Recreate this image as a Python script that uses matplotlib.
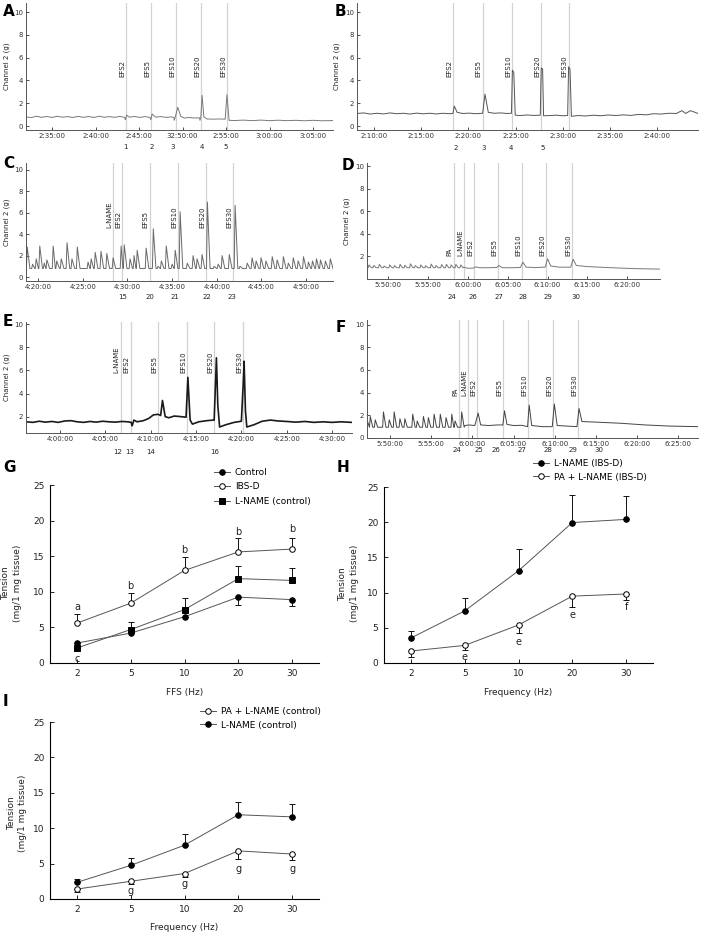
import numpy as np
import matplotlib.pyplot as plt

plt.rcParams['font.family'] = ['DejaVu Sans']

W, H = 720, 936

# ---------------- recordings (time in minutes, tension in g) ----------------
EFS = ['EFS2', 'EFS5', 'EFS10', 'EFS20', 'EFS30']

# A: minutes after 2:00
A_ticks = [35, 40, 45, 50, 55, 60, 65]
A_ticklabels = ['2:35:00', '2:40:00', '2:45:00', '32:50:00', '2:55:00', '3:00:00', '3:05:00']
A_events = [43.5, 46.4, 49.3, 52.1, 55.1]
A_marks = [43.4, 46.4, 48.9, 52.2, 55.0]
A_mark_labels = ['1', '2', '3', '4', '5']
A_trace = [(32.0, 0.80), (32.6, 0.74), (33.2, 0.86), (33.8, 0.76), (34.4, 0.84), (35.0, 0.75),
           (35.6, 0.86), (36.2, 0.77), (36.8, 0.83), (37.4, 0.75), (38.0, 0.85), (38.6, 0.76),
           (39.2, 0.84), (39.8, 0.75), (40.4, 0.86), (41.0, 0.77), (41.6, 0.83), (42.2, 0.76),
           (42.8, 0.85), (43.3, 0.76), (43.45, 0.55), (43.55, 0.95), (43.9, 0.78), (44.5, 0.84),
           (45.1, 0.75), (45.7, 0.83), (46.25, 0.75), (46.35, 0.55), (46.5, 1.05), (46.9, 0.78),
           (47.5, 0.83), (48.1, 0.76), (48.7, 0.80), (49.0, 0.75), (49.05, 0.50), (49.15, 0.75),
           (49.45, 1.65), (49.8, 0.85), (50.2, 0.70), (50.8, 0.75), (51.4, 0.70), (51.95, 0.72),
           (52.0, 0.50), (52.1, 0.75), (52.25, 2.70), (52.45, 0.80), (52.8, 0.62), (53.5, 0.60),
           (54.2, 0.62), (54.9, 0.60), (55.1, 2.75), (55.35, 0.50), (56.0, 0.48), (57.0, 0.52),
           (58.0, 0.47), (59.0, 0.52), (60.0, 0.47), (61.0, 0.51), (62.0, 0.47), (63.0, 0.50),
           (64.0, 0.46), (65.0, 0.50), (66.0, 0.46), (67.3, 0.48)]

# B: minutes after 2:00
B_ticks = [10, 15, 20, 25, 30, 35, 40]
B_ticklabels = ['2:10:00', '2:15:00', '2:20:00', '2:25:00', '2:30:00', '2:35:00', '2:40:00']
B_events = [18.4, 21.5, 24.6, 27.7, 30.6]
B_marks = [18.7, 21.6, 24.5, 27.9]
B_mark_labels = ['2', '3', '4', '5']
B_trace = [(8.2, 1.10), (8.9, 1.15), (9.6, 1.05), (10.3, 1.12), (11.0, 1.06), (11.7, 1.15),
           (12.4, 1.08), (13.1, 1.12), (13.8, 1.05), (14.5, 1.13), (15.2, 1.07), (15.9, 1.12),
           (16.6, 1.06), (17.3, 1.12), (18.0, 1.08), (18.35, 1.10), (18.5, 1.75), (18.8, 1.20),
           (19.4, 1.10), (20.1, 1.13), (20.8, 1.08), (21.5, 1.12), (21.75, 2.80), (22.1, 1.20),
           (22.7, 1.12), (23.4, 1.15), (24.1, 1.10), (24.55, 1.12), (24.65, 4.90), (24.8, 4.70),
           (24.95, 0.95), (25.5, 0.92), (26.2, 0.97), (26.9, 0.93), (27.6, 0.95), (27.7, 5.10),
           (27.85, 5.00), (27.95, 0.90), (28.6, 0.92), (29.3, 0.95), (30.0, 0.90), (30.5, 0.92),
           (30.6, 5.20), (30.75, 5.00), (30.9, 0.85), (31.6, 0.92), (32.4, 0.88), (33.2, 0.95),
           (34.0, 0.90), (34.8, 0.97), (35.6, 0.92), (36.4, 0.98), (37.2, 0.93), (38.0, 1.02),
           (38.8, 0.98), (39.6, 1.08), (40.4, 1.05), (41.2, 1.12), (42.0, 1.10), (42.6, 1.35),
           (43.0, 1.10), (43.5, 1.35), (44.3, 1.10)]

# C: minutes after 4:00
C_ticks = [20, 25, 30, 35, 40, 45, 50]
C_ticklabels = ['4:20:00', '4:25:00', '4:30:00', '4:35:00', '4:40:00', '4:45:00', '4:50:00']
C_events = [28.4, 29.4, 32.5, 35.7, 38.8, 41.8]
C_event_labels = ['L-NAME'] + EFS
C_marks = [29.5, 32.5, 35.3, 38.9, 41.7]
C_mark_labels = ['15', '20', '21', '22', '23']
C_peaks = [(18.8, 2.8), (19.4, 1.2), (19.8, 1.7), (20.2, 2.9), (20.7, 1.3), (21.0, 1.6),
           (21.7, 2.9), (22.1, 1.5), (22.6, 1.7), (23.25, 3.2), (23.8, 1.7), (24.4, 2.8),
           (25.6, 1.4), (25.95, 1.7), (26.4, 2.3), (27.05, 2.4), (27.7, 2.2), (28.4, 1.8),
           (29.3, 2.9), (29.65, 3.0), (30.3, 1.7), (30.75, 2.0), (31.1, 2.5), (32.1, 2.7),
           (32.9, 4.5), (33.45, 1.0), (33.8, 1.5), (34.35, 2.9), (35.0, 1.2), (35.35, 2.5),
           (35.9, 6.1), (36.7, 1.3), (37.35, 2.0), (37.8, 1.7), (38.35, 2.1), (38.95, 7.0),
           (39.7, 1.0), (40.15, 1.2), (40.6, 2.0), (41.4, 2.1), (42.05, 6.7), (42.6, 1.0),
           (43.4, 1.3), (43.95, 1.8), (44.4, 1.5), (44.95, 1.8), (45.5, 1.5), (46.2, 1.9),
           (46.75, 1.6), (47.45, 1.9), (48.0, 1.3), (48.55, 1.8), (49.1, 1.5), (49.7, 1.9),
           (50.25, 1.4), (50.7, 1.5), (51.15, 1.7), (51.6, 1.6), (52.15, 1.5), (52.7, 1.7)]

# D: minutes after 5:00
D_ticks = [50, 55, 60, 65, 70, 75, 80]
D_ticklabels = ['5:50:00', '5:55:00', '6:00:00', '6:05:00', '6:10:00', '6:15:00', '6:20:00']
D_events = [58.2, 59.5, 60.8, 63.8, 66.8, 69.8, 73.1]
D_event_labels = ['PA', 'L-NAME'] + EFS
D_marks = [58.0, 60.7, 63.9, 66.9, 70.0, 73.5]
D_mark_labels = ['24', '26', '27', '28', '29', '30']
D_wiggle = [(47.6, 1.25), (48.2, 1.20), (48.9, 1.30), (49.5, 1.15), (50.2, 1.25), (50.8, 1.20),
            (51.5, 1.30), (52.1, 1.22), (52.8, 1.35), (53.4, 1.20), (54.1, 1.25), (54.7, 1.18),
            (55.4, 1.32), (56.0, 1.20), (56.7, 1.28), (57.3, 1.30), (57.9, 1.25), (58.5, 1.30),
            (59.1, 1.25)]
D_tail = [(59.5, 1.05), (60.0, 0.95), (60.7, 0.97), (61.0, 1.08), (61.5, 1.00), (62.5, 1.00),
          (63.6, 1.02), (63.9, 1.20), (64.3, 1.00), (65.5, 1.00), (66.6, 1.02), (66.9, 1.50),
          (67.3, 1.05), (68.5, 1.02), (69.7, 1.05), (70.0, 1.80), (70.4, 1.15), (71.5, 1.05),
          (72.9, 1.05), (73.2, 1.75), (73.6, 1.20), (75.0, 1.10), (78.0, 1.00), (81.0, 0.92),
          (84.1, 0.88)]

# E: minutes after 3:00
E_ticks = [60, 65, 70, 75, 80, 85, 90]
E_ticklabels = ['4:00:00', '4:05:00', '4:10:00', '4:15:00', '4:20:00', '4:25:00', '4:30:00']
E_events = [66.7, 67.8, 70.8, 74.0, 77.0, 80.2]
E_event_labels = ['L-NAME'] + EFS
E_marks = [66.4, 67.7, 70.0, 77.1]
E_mark_labels = ['12', '13', '14', '16']
E_trace = [(56.25, 1.55), (57.0, 1.50), (57.7, 1.60), (58.4, 1.52), (59.1, 1.58), (59.8, 1.50),
           (60.5, 1.62), (61.2, 1.65), (61.9, 1.55), (62.6, 1.50), (63.3, 1.58), (64.0, 1.52),
           (64.7, 1.60), (65.4, 1.55), (66.1, 1.52), (66.8, 1.58), (67.5, 1.55), (67.85, 1.50),
           (67.95, 1.20), (68.15, 1.70), (68.5, 1.55), (69.2, 1.65), (69.8, 1.85), (70.3, 2.15),
           (70.8, 2.20), (71.1, 2.10), (71.3, 3.40), (71.6, 2.00), (72.0, 1.90), (72.6, 2.05),
           (73.3, 2.00), (73.9, 1.95), (74.1, 5.40), (74.35, 1.70), (74.6, 1.35), (75.3, 1.55),
           (76.2, 1.65), (76.9, 1.70), (77.0, 1.70), (77.25, 7.10), (77.4, 3.00), (77.6, 1.10),
           (78.3, 1.30), (79.2, 1.50), (80.0, 1.60), (80.2, 4.80), (80.3, 6.80), (80.45, 2.50),
           (80.6, 1.10), (81.4, 1.30), (82.3, 1.60), (83.2, 1.70), (84.1, 1.62), (85.0, 1.58),
           (86.0, 1.52), (87.0, 1.58), (88.0, 1.50), (89.0, 1.55), (90.0, 1.50), (91.0, 1.55),
           (92.2, 1.50)]

# F: minutes after 5:00
F_ticks = [50, 55, 60, 65, 70, 75, 80, 85]
F_ticklabels = ['5:50:00', '5:55:00', '6:00:00', '6:05:00', '6:10:00', '6:15:00', '6:20:00', '6:25:00']
F_events = [58.4, 59.5, 60.6, 63.7, 66.8, 69.8, 72.8]
F_event_labels = ['PA', 'L-NAME'] + EFS
F_marks = [58.1, 60.8, 62.9, 66.0, 69.2, 72.2, 75.4]
F_mark_labels = ['24', '25', '26', '27', '28', '29', '30']
F_osc = [(47.6, 1.9), (48.2, 1.6), (49.2, 2.3), (49.9, 1.6), (50.5, 2.3), (51.2, 1.7),
         (51.8, 1.7), (52.75, 2.1), (53.3, 1.5), (54.05, 1.9), (54.65, 1.8), (55.35, 2.1),
         (56.1, 2.1), (56.8, 1.8), (57.5, 2.1), (57.9, 1.5), (58.7, 2.3)]
F_tail = [(59.1, 1.10), (59.6, 1.15), (60.3, 1.10), (60.7, 2.20), (61.0, 1.15), (62.0, 1.10),
          (63.0, 1.15), (63.7, 1.15), (63.9, 2.40), (64.2, 1.20), (65.0, 1.10), (66.0, 1.12),
          (66.7, 1.00), (66.9, 2.90), (67.2, 1.10), (68.5, 1.00), (69.7, 1.00), (69.95, 3.00),
          (70.3, 1.10), (71.5, 1.05), (72.7, 1.00), (72.95, 2.60), (73.3, 1.45), (75.0, 1.40),
          (78.0, 1.30), (81.0, 1.15), (84.0, 1.05), (87.4, 1.00)]

# ---------------- summary data ----------------
freq_labels = ['2', '5', '10', '20', '30']

G_control = [2.8, 4.2, 6.5, 9.25, 8.9]
G_control_lo = [0, 0, 0, 1.15, 0.9]
G_ibsd = [5.6, 8.4, 13.0, 15.6, 16.0]
G_ibsd_hi = [1.25, 1.5, 1.85, 2.0, 1.6]
G_lname = [2.1, 4.7, 7.5, 11.85, 11.6]
G_lname_hi = [0.3, 1.0, 1.6, 1.75, 1.8]
G_letters = [('a', 0, 7.9), ('b', 1, 10.8), ('b', 2, 15.9), ('b', 3, 18.4), ('b', 4, 18.75), ('c', 0, 0.6)]

H_lname = [3.55, 7.4, 13.1, 19.95, 20.4]
H_lname_hi = [1.05, 1.8, 3.1, 3.95, 3.3]
H_pa = [1.7, 2.5, 5.4, 9.5, 9.8]
H_pa_lo = [0.8, 0.6, 1.1, 1.5, 0.8]
H_letters = [('e', 1, 0.9), ('e', 2, 3.0), ('e', 3, 6.8), ('f', 4, 8.0)]

I_lname = [2.35, 4.75, 7.6, 11.9, 11.6]
I_lname_hi = [0.45, 1.05, 1.65, 1.8, 1.8]
I_pa = [1.4, 2.5, 3.6, 6.8, 6.35]
I_pa_lo = [0.4, 0.4, 0.55, 1.2, 0.85]
I_letters = [('g', 1, 1.2), ('g', 2, 2.1), ('g', 3, 4.3), ('g', 4, 4.2)]


def spikes(peaks, trough):
    pts = []
    for i, (t, h) in enumerate(peaks):
        nxt = peaks[i + 1][0] if i + 1 < len(peaks) else t + 1
        pts += [(t - 0.1, trough), (t, h), (t + min(0.3, 0.6 * (nxt - t)), trough)]
    return pts


def px_rect(l, t, r, b):
    return [l / W, 1 - b / H, (r - l) / W, (b - t) / H]


fig = plt.figure(figsize=(W / 100, H / 100), dpi=100)


def trace_panel(rect, xlim, ylim, yticks, ticks, ticklabels, events, ev_labels, ev_y,
                marks, mark_labels, mark_y, pts, color, lw, ylab_x=None):
    ax = fig.add_axes(px_rect(*rect))
    for t in events:
        ax.axvline(t, color='#d2d2d2', lw=0.9, zorder=0)
    for t, lab in zip(events, ev_labels):
        ax.text(t - 0.1, ev_y, lab, rotation=90, ha='right', va='bottom', fontsize=5, color='#222')
    tt, vv = zip(*pts)
    ax.plot(tt, vv, color=color, lw=lw)
    ax.set_xlim(*xlim)
    ax.set_ylim(*ylim)
    ax.set_xticks(ticks)
    ax.set_xticklabels(ticklabels)
    ax.set_yticks(yticks)
    ax.tick_params(direction='in', length=2, width=0.6, labelsize=5, pad=2, colors='#333')
    for s in ['top', 'right']:
        ax.spines[s].set_visible(False)
    for s in ['left', 'bottom']:
        ax.spines[s].set_color('#555')
        ax.spines[s].set_linewidth(0.7)
    for t, lab in zip(marks, mark_labels):
        ax.text(t, mark_y, lab, transform=ax.get_xaxis_transform(), ha='center', va='center',
                fontsize=5, color='#222')
    if ylab_x is not None:
        ax.set_ylabel('Channel 2 (g)', fontsize=5, color='#222')
        ax.yaxis.set_label_coords(ylab_x, 0.5)
    return ax


trace_panel((26, 3, 333, 130), (32.0, 67.3), (-0.35, 10.8), [0, 2, 4, 6, 8, 10],
            A_ticks, A_ticklabels, A_events, EFS, 4.3, A_marks, A_mark_labels, -0.134,
            A_trace, '#7a7a7a', 0.7, -0.052)
trace_panel((357, 3, 698, 130), (8.2, 44.3), (-0.35, 10.8), [0, 2, 4, 6, 8, 10],
            B_ticks, B_ticklabels, B_events, EFS, 4.3, B_marks, B_mark_labels, -0.142,
            B_trace, '#555555', 0.7, -0.05)
C_trace = [(18.66, 2.6)] + spikes(C_peaks, 0.8) + [(53.0, 0.75)]
trace_panel((26, 163, 333, 281), (18.66, 53.0), (-0.37, 10.65), [0, 2, 4, 6, 8, 10],
            C_ticks, C_ticklabels, C_events, C_event_labels, 4.6, C_marks, C_mark_labels, -0.136,
            C_trace, '#6a6a6a', 0.7, -0.052)
D_trace = [(47.35, 1.05)] + spikes(D_wiggle, 1.0) + D_tail
trace_panel((367, 163, 660, 279), (47.35, 84.1), (0, 10.3), [2, 4, 6, 8, 10],
            D_ticks, D_ticklabels, D_events, D_event_labels, 2.05, D_marks, D_mark_labels, -0.154,
            D_trace, '#777777', 0.7, -0.058)
trace_panel((26, 322, 352, 433), (56.25, 92.2), (0.58, 10.2), [2, 4, 6, 8, 10],
            E_ticks, E_ticklabels, E_events, E_event_labels, 5.8, E_marks, E_mark_labels, -0.17,
            E_trace, '#1a1a1a', 1.2, -0.05)
F_trace = [(47.2, 1.6)] + spikes(F_osc, 0.95) + F_tail
trace_panel((367, 320, 698, 438), (47.2, 87.4), (0, 10.4), [0, 2, 4, 6, 8, 10],
            F_ticks, F_ticklabels, F_events, F_event_labels, 3.7, F_marks, F_mark_labels, -0.10,
            F_trace, '#444444', 0.7)


def stat_panel(rect, xlabel, ylab_x, ylab_y, xlab_y):
    ax = fig.add_axes(px_rect(*rect))
    x = np.arange(5)
    ax.set_xlim(-0.5, 4.5)
    ax.set_ylim(0, 25)
    ax.set_xticks(x)
    ax.set_xticklabels(freq_labels)
    ax.set_yticks([0, 5, 10, 15, 20, 25])
    ax.tick_params(direction='in', length=3, width=0.7, labelsize=6.5, pad=4, colors='#222')
    for s in ['top', 'right']:
        ax.spines[s].set_visible(False)
    for s in ['left', 'bottom']:
        ax.spines[s].set_linewidth(0.8)
    ax.set_xlabel(xlabel, fontsize=6.5, color='#222')
    ax.xaxis.set_label_coords(0.5, xlab_y)
    ax.set_ylabel('Tension\n(mg/1 mg tissue)', fontsize=6.5, color='#222', linespacing=1.35)
    ax.yaxis.set_label_coords(ylab_x, ylab_y)
    return ax


def series(ax, y, lo, hi, marker, filled, label):
    x = np.arange(5)
    ax.errorbar(x, y, yerr=[lo, hi], fmt='none', ecolor='#111', elinewidth=0.7,
                capsize=2.5, capthick=0.7, zorder=2)
    ax.plot(x, y, '-', marker=marker, color='#555', lw=0.7, ms=4,
            mfc='black' if filled else 'white', mec='black', mew=0.7, zorder=3, label=label)


def letters(ax, items):
    for s, i, v in items:
        ax.text(i, v, s, ha='center', va='center', fontsize=7, color='#222')


zeros = [0, 0, 0, 0, 0]

axG = stat_panel((50, 485, 319, 663), 'FFS (Hz)', -0.104, 0.45, -0.14)
series(axG, G_control, G_control_lo, zeros, 'o', True, 'Control')
series(axG, G_ibsd, zeros, G_ibsd_hi, 'o', False, 'IBS-D')
series(axG, G_lname, zeros, G_lname_hi, 's', True, 'L-NAME (control)')
letters(axG, G_letters)
axG.legend(loc='upper left', bbox_to_anchor=(214 / W, 1 - 468 / H), bbox_transform=fig.transFigure,
           frameon=False, fontsize=6.5, handlelength=1.8, handletextpad=0.5, labelspacing=0.6,
           borderpad=0, borderaxespad=0)

axH = stat_panel((384, 487, 653, 663), 'Frequency (Hz)', -0.093, 0.45, -0.14)
series(axH, H_lname, zeros, H_lname_hi, 'o', True, 'L-NAME (IBS-D)')
series(axH, H_pa, H_pa_lo, zeros, 'o', False, 'PA + L-NAME (IBS-D)')
letters(axH, H_letters)
axH.legend(loc='upper left', bbox_to_anchor=(533 / W, 1 - 459 / H), bbox_transform=fig.transFigure,
           frameon=False, fontsize=6.5, handlelength=1.8, handletextpad=0.5, labelspacing=0.5,
           borderpad=0, borderaxespad=0)

axI = stat_panel((50, 722, 319, 899), 'Frequency (Hz)', -0.085, 0.486, -0.135)
series(axI, I_pa, I_pa_lo, zeros, 'o', False, 'PA + L-NAME (control)')
series(axI, I_lname, zeros, I_lname_hi, 'o', True, 'L-NAME (control)')
letters(axI, I_letters)
axI.legend(loc='upper left', bbox_to_anchor=(200 / W, 1 - 707 / H), bbox_transform=fig.transFigure,
           frameon=False, fontsize=6.5, handlelength=1.8, handletextpad=0.5, labelspacing=0.5,
           borderpad=0, borderaxespad=0)

# panel letters
for s, x, y in [('A', 3, 12), ('B', 335, 12), ('C', 3, 164), ('D', 342, 165), ('E', 3, 322),
                ('F', 336, 328), ('G', 3, 467), ('H', 337, 467), ('I', 3, 702)]:
    fig.text(x / W, 1 - y / H, s, fontsize=11, fontweight='bold', ha='left', va='center')

fig.savefig('out.png', dpi=100)
